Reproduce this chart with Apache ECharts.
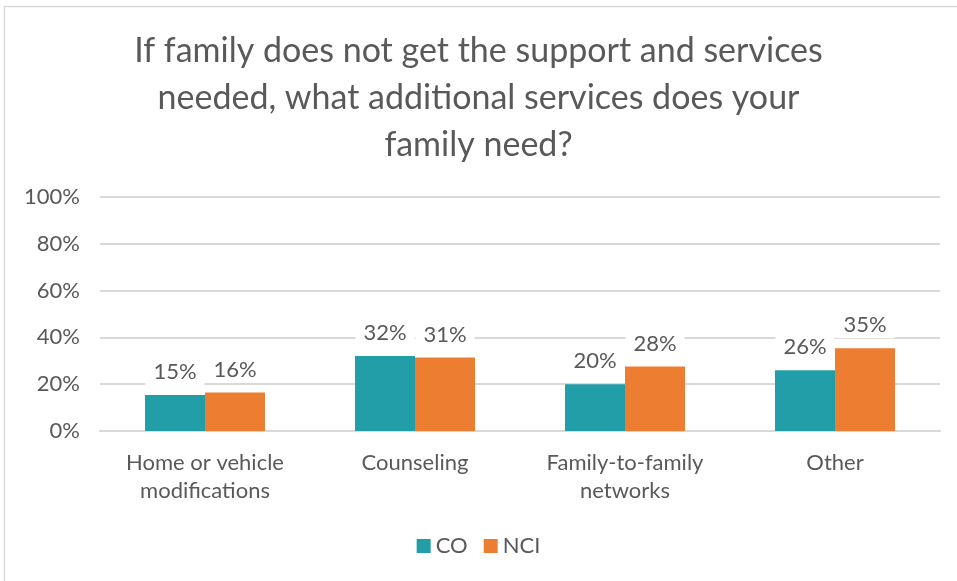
<!DOCTYPE html>
<html>
<head>
<meta charset="utf-8">
<script src="https://cdn.jsdelivr.net/npm/echarts@6/dist/echarts.min.js"></script>
<style>
  html, body { margin: 0; padding: 0; background: #fff; }
  #chart { width: 957px; height: 581px; }
</style>
</head>
<body>
<div id="chart"></div>
<script>
var categories = ['Home or vehicle\nmodifications', 'Counseling', 'Family-to-family\nnetworks', 'Other'];
var coValues = [15.4, 32, 20, 26];
var nciValues = [16.4, 31.4, 27.6, 35.4];
var yTicks = [0, 20, 40, 60, 80, 100];

var textColor = '#595959';
var font = 'Lato, "Open Sans", sans-serif';

var barLabel = {
    show: true,
    position: 'top',
    distance: 10,
    color: textColor,
    fontSize: 22,
    fontFamily: font,
    backgroundColor: '#fff',
    padding: [2, 8],
    formatter: function (p) { return Math.round(p.value) + '%'; }
};

var option = {
    animation: false,
    title: {
        text: 'If family does not get the support and services\nneeded, what additional services does your\nfamily need?',
        left: 'center',
        top: 23,
        textStyle: {
            color: textColor,
            fontSize: 34,
            fontWeight: 'normal',
            fontFamily: font,
            lineHeight: 47
        }
    },
    graphic: [{
        type: 'rect',
        shape: { x: 4.5, y: 6.5, width: 970, height: 600 },
        style: { fill: 'none', stroke: '#d9d9d9', lineWidth: 1.5 },
        silent: true
    }],
    legend: {
        bottom: 19,
        left: 'center',
        itemWidth: 14,
        itemHeight: 14,
        itemGap: 16,
        icon: 'rect',
        textStyle: { color: textColor, fontSize: 22, fontFamily: font }
    },
    grid: { left: 100, right: 17, top: 197, bottom: 150 },
    xAxis: {
        type: 'category',
        data: categories,
        axisLine: { lineStyle: { color: '#d9d9d9', width: 2 } },
        axisTick: { show: false },
        axisLabel: {
            color: textColor,
            fontSize: 22,
            fontFamily: font,
            lineHeight: 28,
            margin: 18
        }
    },
    yAxis: {
        type: 'value',
        min: yTicks[0],
        max: yTicks[yTicks.length - 1],
        interval: 20,
        axisLine: { show: false },
        axisTick: { show: false },
        splitLine: { lineStyle: { color: '#d9d9d9', width: 2 } },
        axisLabel: {
            color: textColor,
            fontSize: 22,
            fontFamily: font,
            margin: 20,
            formatter: '{value}%'
        }
    },
    series: [
        {
            name: 'CO',
            type: 'bar',
            data: coValues,
            barWidth: 60,
            barGap: '0%',
            itemStyle: { color: '#219ea7' },
            label: barLabel
        },
        {
            name: 'NCI',
            type: 'bar',
            data: nciValues,
            barWidth: 60,
            barGap: '0%',
            itemStyle: { color: '#ed7d31' },
            label: barLabel
        }
    ]
};

var myChart = echarts.init(document.getElementById('chart'));
myChart.setOption(option);
</script>
</body>
</html>
